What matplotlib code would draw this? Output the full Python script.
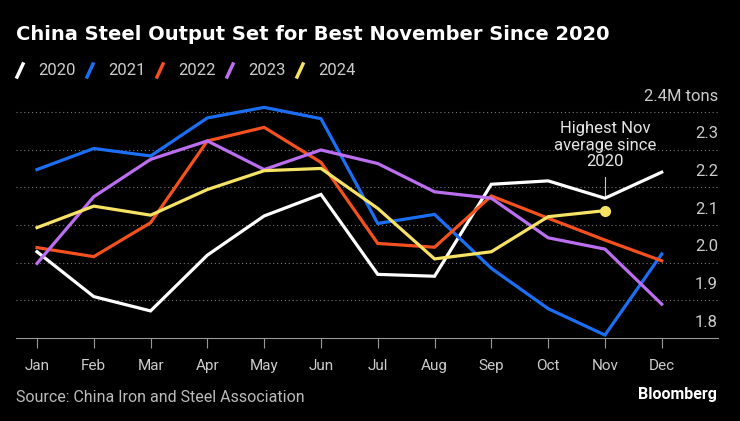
import matplotlib.pyplot as plt
from matplotlib.lines import Line2D

plt.rcParams['font.family'] = ['Roboto', 'DejaVu Sans']

months = ['Jan', 'Feb', 'Mar', 'Apr', 'May', 'Jun', 'Jul', 'Aug', 'Sep', 'Oct', 'Nov', 'Dec']
years = ['2020', '2021', '2022', '2023', '2024']
colors = ['#ffffff', '#1a6ff5', '#f4511e', '#bb6ff0', '#f6e264']

# million tons, daily average output
y2020 = [2.029, 1.910, 1.872, 2.020, 2.124, 2.181, 1.969, 1.964, 2.208, 2.217, 2.171, 2.240]
y2021 = [2.247, 2.303, 2.283, 2.384, 2.412, 2.382, 2.104, 2.128, 1.985, 1.878, 1.808, 2.023]
y2022 = [2.040, 2.016, 2.106, 2.323, 2.359, 2.266, 2.051, 2.041, 2.177, 2.118, 2.060, 2.005]
y2023 = [1.998, 2.175, 2.274, 2.323, 2.247, 2.299, 2.263, 2.188, 2.171, 2.066, 2.036, 1.890]
y2024 = [2.093, 2.150, 2.126, 2.194, 2.244, 2.250, 2.144, 2.010, 2.029, 2.122, 2.138]
series = [y2020, y2021, y2022, y2023, y2024]

yticks = [1.8, 1.9, 2.0, 2.1, 2.2, 2.3, 2.4]
ylabels = ['1.8', '1.9', '2.0', '2.1', '2.2', '2.3', '2.4M tons']

fig = plt.figure(figsize=(7.4, 4.21), dpi=100, facecolor='black')
ax = fig.add_axes([0.0216, 0.197, 0.9486, 0.582], facecolor='black')

for yv in yticks[1:]:
    ax.axhline(yv, color='#777777', lw=0.8, ls=(0, (1, 2.5)), zorder=1)

for vals, c in zip(series, colors):
    ax.plot(range(len(vals)), vals, color=c, lw=2.3, zorder=3, solid_joinstyle='miter')

# marker at latest point
ax.plot(len(y2024) - 1, y2024[-1], 'o', color=colors[4], ms=7, zorder=4)

# annotation
ax.plot([10, 10], [y2020[10], 2.228], color='#cccccc', lw=0.8, zorder=2)
ax.text(10, 2.312, 'Highest Nov\naverage since\n2020', ha='center', va='center',
        color='#e6e6e6', fontsize=12, linespacing=1.12, zorder=5)

for yv, lab in zip(yticks, ylabels):
    ax.text(1.0, yv + 0.042, lab, transform=ax.get_yaxis_transform(), ha='right', va='center',
            color='#cccccc', fontsize=12)

ax.set_xlim(-0.37, 11.99)
ax.set_ylim(1.8, 2.45)
ax.set_xticks(range(12))
ax.set_xticklabels(months, fontsize=11)
ax.set_yticks([])
ax.tick_params(axis='x', colors='#999999', length=7, width=0.8, pad=8, labelcolor='#cccccc')
for s in ['top', 'right', 'left']:
    ax.spines[s].set_visible(False)
ax.spines['bottom'].set_color('#999999')
ax.spines['bottom'].set_linewidth(0.8)

fig.text(16 / 740, 1 - 35 / 421, 'China Steel Output Set for Best November Since 2020', color='white',
         fontsize=14, fontweight='bold', va='center', family='DejaVu Sans')

# legend
lx = 17
for yr, c in zip(years, colors):
    fig.add_artist(Line2D([lx / 740, (lx + 6) / 740], [1 - 77 / 421, 1 - 64 / 421],
                          color=c, lw=2.5, transform=fig.transFigure))
    fig.text((lx + 21) / 740, 1 - 70.5 / 421, yr, color='#cccccc', fontsize=12, va='center')
    lx += 70

fig.text(16 / 740, 1 - 397 / 421, 'Source: China Iron and Steel Association', color='#bbbbbb',
         fontsize=11.5, va='center')
fig.text(717 / 740, 1 - 395 / 421, 'Bloomberg', color='white', fontsize=11.5, fontweight='bold',
         va='center', ha='right')

fig.savefig('out.png', dpi=100, facecolor='black')
